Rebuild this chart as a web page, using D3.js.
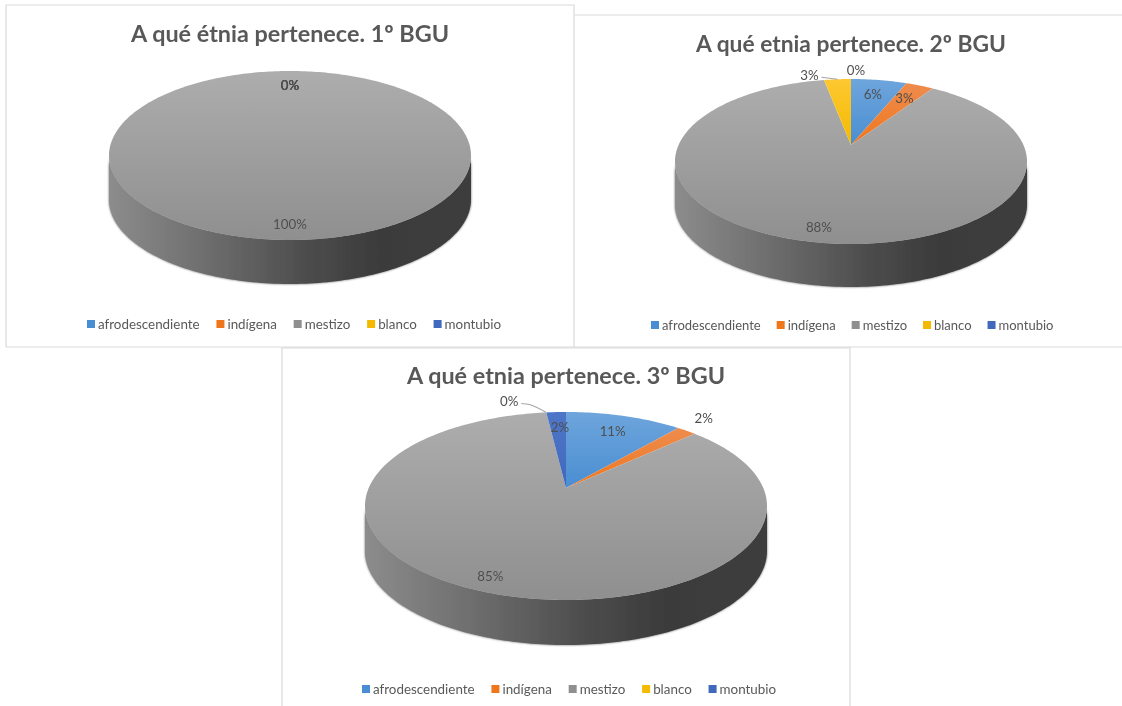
<!DOCTYPE html>
<html><head><meta charset="utf-8">
<script src="https://cdn.jsdelivr.net/npm/d3@7"></script>
<style>html,body{margin:0;padding:0;background:#fff}svg{display:block}text{font-family:Lato,"Open Sans",sans-serif}</style>
</head><body><svg id="c" width="1122" height="706"></svg>
<script>
const categories = ["afrodescendiente","indígena","mestizo","blanco","montubio"];
const shares1 = [0,0,100,0,0];
const shares2 = [6.2,3.1,87.7,3,0];
const shares3 = [11.3,1.9,84.9,0,1.9];
const titles = ["A qué étnia pertenece. 1º BGU","A qué etnia pertenece. 2º BGU","A qué etnia pertenece. 3º BGU"];
const topColors = ["#6ea5dc","#ee8c4e","#adadad","#fdc832","#4f76c8"];
const bottomColors = ["#4a8ed2","#f0761c","#8f8f8f","#f4ba00","#3f68bc"];

const panels = [
 {values:shares1,title:titles[0],cx:290,top:71,bottom:240,apexFrac:.4,halfW:181,depth:44,titleY:42,titleSize:23.4,legendY:329,legendX:87,legendSize:13.4,legendGap:16.8,
  labels:[[.76,0,0],[.76,0,0],[.876,0,0],[.76,0,0],[.76,0,0]],leaders:[]},
 {values:shares2,title:titles[1],cx:851,top:79,bottom:244,apexFrac:.4,halfW:176,depth:43,titleY:52,titleSize:22.8,legendY:330,legendX:651,legendSize:13,legendGap:16,
  labels:[[.75,0,0],[.75,0,0],[.88,4,0],[1,-28,-4],[1,5,-9]],leaders:[3]},
 {values:shares3,title:titles[2],cx:566,top:412,bottom:600,apexFrac:.404,halfW:201,depth:45,titleY:384,titleSize:23.4,legendY:694,legendX:362,legendSize:13.4,legendGap:16.8,
  labels:[[.72,3,-2],[1,17,-12],[.88,-4,0],[1,-37,-11],[.79,2,1]],leaders:[3]}
];
const frames = [
 [[6,347],[6,5],[574,5],[574,347],[6,347]],
 [[575,15],[1122,15]],
 [[574,347],[1122,347]],
 [[282,706],[282,348],[850,348],[850,706]]
];

const svg = d3.select("#c");
const defs = svg.append("defs");
const soft = defs.append("filter").attr("id","soft").attr("x","-5%").attr("y","-5%").attr("width","110%").attr("height","110%");
soft.append("feGaussianBlur").attr("stdDeviation",.45);
const sh = defs.append("filter").attr("id","wallShadow").attr("x","-5%").attr("y","-5%").attr("width","110%").attr("height","115%");
sh.append("feGaussianBlur").attr("stdDeviation",1.2);
categories.forEach((c,i)=>{
  const g = defs.append("linearGradient").attr("id","face"+i).attr("x1",0).attr("y1",0).attr("x2",0).attr("y2",1);
  g.append("stop").attr("offset",0).attr("stop-color",topColors[i]);
  g.append("stop").attr("offset",1).attr("stop-color",bottomColors[i]);
});
const root = svg.append("g").attr("filter","url(#soft)");
root.selectAll("path.frame").data(frames).join("path").attr("class","frame")
  .attr("d",d3.line()).attr("fill","none").attr("stroke","#d9d9d9").attr("stroke-width",1.2);

const pie = d3.pie().sort(null).value(d=>d);

panels.forEach((p,pi)=>{
  const g = root.append("g");
  const up = (p.bottom-p.top)*p.apexFrac, dn = (p.bottom-p.top)*(1-p.apexFrac);
  const apexY = p.top+up;
  const k = (dn-up)/(dn+up), A = dn*(1-k), R = p.halfW*Math.sqrt(1-k*k);
  const project = (ang,f)=>{
    const x=f*Math.sin(ang), y=-f*Math.cos(ang), w=1-k*y;
    return [p.cx+R*x/w, apexY+A*y/w];
  };
  const sample=(a0,a1)=>{
    const n=Math.max(2,Math.ceil((a1-a0)/0.02));
    return d3.range(n+1).map(i=>project(a0+(a1-a0)*i/n,1));
  };
  const line=d3.line();
  const arcs=pie(p.values);
  const gid="wall"+pi;
  const wg=defs.append("linearGradient").attr("id",gid).attr("gradientUnits","userSpaceOnUse")
    .attr("x1",p.cx-p.halfW).attr("x2",p.cx+p.halfW).attr("y1",0).attr("y2",0);
  [[0,"#8c8c8c"],[.3,"#6a6a6a"],[.55,"#4c4c4c"],[.75,"#3b3b3b"],[1,"#3d3d3d"]].forEach(s=>wg.append("stop").attr("offset",s[0]).attr("stop-color",s[1]));
  const rimFrom=Math.acos(-k), rimTo=2*Math.PI-rimFrom;
  const wallPath=d=>{
    const a0=Math.max(d.startAngle,rimFrom), a1=Math.min(d.endAngle,rimTo);
    if(a1<=a0) return null;
    const pts=sample(a0,a1);
    const low=pts.slice().reverse().map(q=>[q[0],q[1]+p.depth]);
    return line(pts.concat(low))+"Z";
  };
  const vis=arcs.filter(d=>d.endAngle>d.startAngle);
  g.selectAll("path.sh").data(vis).join("path").attr("class","sh").attr("d",wallPath)
    .attr("fill","#333").attr("opacity",.75).attr("filter","url(#wallShadow)");
  g.selectAll("path.wall").data(vis).join("path").attr("class","wall").attr("d",wallPath).attr("fill",`url(#${gid})`);
  g.selectAll("path.face").data(vis).join("path").attr("class","face")
    .attr("d",d=>{
      const pts=sample(d.startAngle,d.endAngle);
      const full=d.endAngle-d.startAngle>=2*Math.PI-1e-6;
      return line(full?pts:[[p.cx,apexY]].concat(pts))+"Z";
    })
    .attr("fill",d=>`url(#face${d.index})`);
  const pos=d=>{
    const l=p.labels[d.index], q=project((d.startAngle+d.endAngle)/2,l[0]);
    return [q[0]+l[1],q[1]+l[2]];
  };
  g.selectAll("path.leader").data(arcs.filter(d=>p.leaders.includes(d.index))).join("path").attr("class","leader")
    .attr("d",d=>{
      const a=pos(d), e=project((d.startAngle+d.endAngle)/2,1);
      return d3.line().curve(d3.curveMonotoneX)([[a[0]+12,a[1]+2],[a[0]+20,a[1]+3],[e[0],e[1]]]);
    }).attr("fill","none").attr("stroke","#a6a6a6").attr("stroke-width",1.1);
  g.selectAll("text.pct").data(arcs).join("text").attr("class","pct")
    .attr("x",d=>pos(d)[0]).attr("y",d=>pos(d)[1]).attr("dy","0.35em")
    .attr("text-anchor","middle").attr("font-size",13.3).attr("fill","#4f4f4f")
    .text(d=>Math.round(d.data)+"%");
  g.append("text").attr("x",p.cx).attr("y",p.titleY).attr("text-anchor","middle")
    .attr("font-size",p.titleSize).attr("font-weight",700).attr("fill","#595959").text(p.title);
  let lx=p.legendX;
  categories.forEach((c,i)=>{
    g.append("rect").attr("x",lx).attr("y",p.legendY-9).attr("width",8).attr("height",8).attr("fill",bottomColors[i]);
    const t=g.append("text").attr("x",lx+11).attr("y",p.legendY).attr("font-size",p.legendSize).attr("fill","#595959").text(c);
    lx+=11+t.node().getComputedTextLength()+p.legendGap;
  });
});
</script></body></html>
